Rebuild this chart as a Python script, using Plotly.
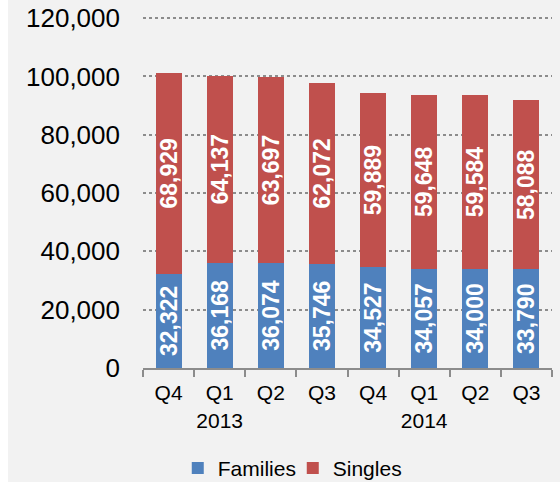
import plotly.graph_objects as go

quarters = ["Q4 2012", "Q1 2013", "Q2 2013", "Q3 2013",
            "Q4 2013", "Q1 2014", "Q2 2014", "Q3 2014"]
tick_labels = ["Q4", "Q1<br>2013", "Q2", "Q3", "Q4", "Q1<br>2014", "Q2", "Q3"]
families = [32322, 36168, 36074, 35746, 34527, 34057, 34000, 33790]
singles = [68929, 64137, 63697, 62072, 59889, 59648, 59584, 58088]

font = "Liberation Sans, Arial, sans-serif"
bar_text = dict(family=font, size=23, color="white", weight="bold")

fig = go.Figure()

fig.add_trace(go.Bar(
    x=quarters, y=families, name="Families",
    marker=dict(color="#4f81bd", line=dict(width=0)),
    text=[f"{v:,}" for v in families],
    textposition="inside", insidetextanchor="middle",
    textangle=-90, textfont=bar_text, constraintext="none",
))

fig.add_trace(go.Bar(
    x=quarters, y=singles, name="Singles",
    marker=dict(color="#c0504d", line=dict(width=0)),
    text=[f"{v:,}" for v in singles],
    textposition="inside", insidetextanchor="middle",
    textangle=-90, textfont=bar_text, constraintext="none",
))

fig.update_xaxes(
    tickvals=quarters, ticktext=tick_labels, tickangle=0,
    tickson="boundaries", ticks="outside", ticklen=7, tickwidth=2,
    tickcolor="#8c8c8c", showline=True, linecolor="#8c8c8c", linewidth=2,
    tickfont=dict(family=font, size=21, color="black"),
    ticklabelstandoff=5,
    showgrid=False, automargin=False,
)

# max a touch above 120k so the top gridline still gets drawn
fig.update_yaxes(
    range=[0, 120400], tickvals=[0, 20000, 40000, 60000, 80000, 100000, 120000],
    tickformat=",d",
    showgrid=True, gridcolor="#8c8c8c", griddash="dot", gridwidth=2,
    zeroline=False, showline=False, ticks="", ticklabelstandoff=22,
    tickfont=dict(family=font, size=26, color="black"),
    automargin=False,
)

# page has 8px white strip at left in the reference; figure sits right of it
fig.update_layout(
    width=552, height=482,
    barmode="stack", bargap=0.49,
    margin=dict(l=135, r=8, t=17, b=114, autoexpand=False),
    paper_bgcolor="#f2f2f2", plot_bgcolor="#f2f2f2",
    uniformtext=dict(minsize=23, mode="show"),
    showlegend=True,
    legend=dict(orientation="h", x=0.085, xanchor="left",
                y=-0.286, yanchor="middle", traceorder="normal",
                font=dict(family=font, size=21, color="black"),
                entrywidth=70, entrywidthmode="pixels",
                itemwidth=30, bgcolor="rgba(0,0,0,0)"),
)

fig.write_html("out.html", post_script="document.body.style.margin='0 0 0 8px';")
